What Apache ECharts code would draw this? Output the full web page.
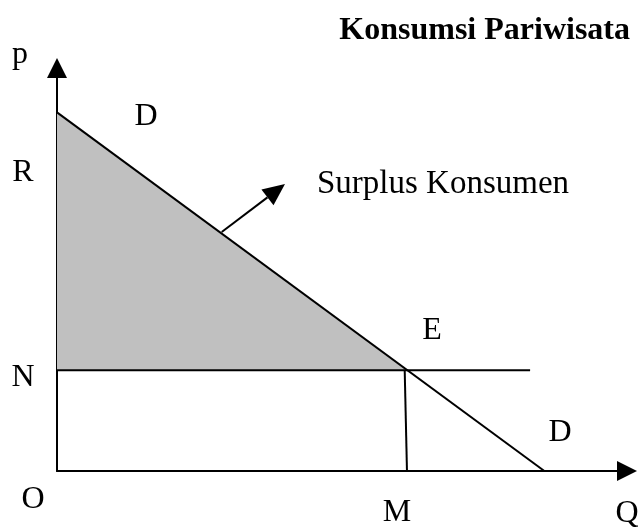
<!DOCTYPE html>
<html>
<head>
<meta charset="utf-8">
<script src="https://cdn.jsdelivr.net/npm/echarts@6/dist/echarts.min.js"></script>
<style>html,body{margin:0;padding:0;background:#fff}#c{width:638px;height:528px}</style>
</head>
<body>
<div id="c"></div>
<script>
// ---- data (quantity Q on x, price p on y) ----
const demandPoints = [[0, 8.9], [8.55, 0]];          // D ... D
const priceLine = [[0, 2.5], [8.3, 2.5]];            // N ... horizontal price line
const quantityLine = [[6.1, 2.5], [6.14, 0]];        // E down to M
const surplusArea = [[0, 8.9], [0, 2.5], [6.15, 2.5]]; // consumer surplus triangle
const surplusArrow = [[2.89, 5.93, 4.0, 7.12]];      // arrow from area to label
const titleText = 'Konsumsi Pariwisata';
const surplusText = 'Surplus Konsumen';
const pointLabels = ['p', 'D', 'R', 'E', 'N', 'D', 'O', 'M', 'Q'];

const chart = echarts.init(document.getElementById('c'));
const FONT = 'Liberation Serif, Times New Roman, serif';
const FS = 32;

const labelPos = [[20, 55], [146, 117], [23, 173], [432, 331], [23, 378], [560, 433], [33, 500], [397, 513], [627, 514]];
const graphics = pointLabels.map((t, i) => ({
  type: 'text', x: labelPos[i][0], y: labelPos[i][1],
  style: { text: t, fill: '#000', font: FS + 'px ' + FONT, align: 'center', verticalAlign: 'middle' }
}));
graphics.push({ type: 'text', x: 630, y: 31, style: { text: titleText, fill: '#000', font: 'bold 32px ' + FONT, align: 'right', verticalAlign: 'middle' } });
graphics.push({ type: 'text', x: 317, y: 184, style: { text: surplusText, fill: '#000', font: '33px ' + FONT, align: 'left', verticalAlign: 'middle' } });

const axisCommon = {
  type: 'value', min: 0, max: 10,
  splitLine: { show: false }, axisTick: { show: false }, axisLabel: { show: false },
  axisLine: { show: true, symbol: ['none', 'triangle'], symbolSize: [20, 20], lineStyle: { color: '#000', width: 2 } }
};

chart.setOption({
  animation: false,
  backgroundColor: '#fff',
  grid: { left: 57, right: 11, top: 68, bottom: 57, containLabel: false },
  xAxis: Object.assign({}, axisCommon),
  yAxis: Object.assign({}, axisCommon),
  graphic: graphics,
  series: [
    {
      type: 'custom', z: 1,
      renderItem: function (params, api) {
        const pts = surplusArea.map(p => api.coord(p));
        return { type: 'polygon', shape: { points: pts }, style: { fill: '#c0c0c0', stroke: null } };
      },
      data: [0]
    },
    { type: 'line', data: demandPoints, symbol: 'none', lineStyle: { color: '#000', width: 2 }, z: 3 },
    { type: 'line', data: priceLine, symbol: 'none', lineStyle: { color: '#000', width: 2 }, z: 3 },
    { type: 'line', data: quantityLine, symbol: 'none', lineStyle: { color: '#000', width: 2 }, z: 3 },
    {
      type: 'custom', z: 4,
      renderItem: function (params, api) {
        const a = api.coord([api.value(0), api.value(1)]);
        const b = api.coord([api.value(2), api.value(3)]);
        const dx = b[0] - a[0], dy = b[1] - a[1];
        const len = Math.sqrt(dx * dx + dy * dy);
        const ux = dx / len, uy = dy / len;
        const hl = 22, hw = 10;
        const bx = b[0] - ux * hl, by = b[1] - uy * hl;
        return {
          type: 'group',
          children: [
            { type: 'line', shape: { x1: a[0], y1: a[1], x2: bx, y2: by }, style: { stroke: '#000', lineWidth: 2 } },
            { type: 'polygon', shape: { points: [b, [bx - uy * hw, by + ux * hw], [bx + uy * hw, by - ux * hw]] }, style: { fill: '#000' } }
          ]
        };
      },
      data: surplusArrow
    }
  ]
});
</script>
</body>
</html>
